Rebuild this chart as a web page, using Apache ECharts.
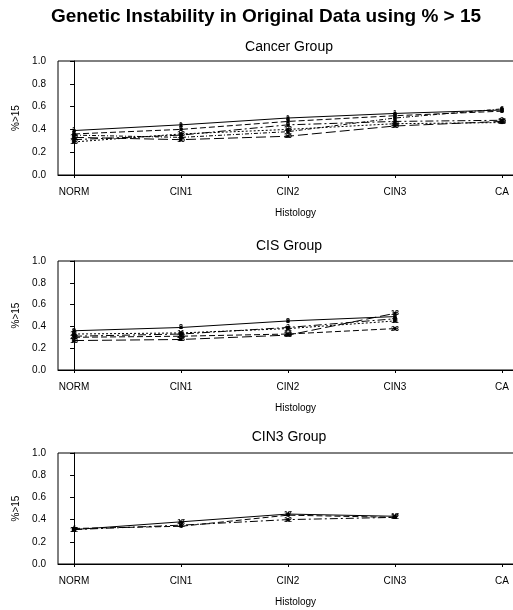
<!DOCTYPE html>
<html>
<head>
<meta charset="utf-8">
<script src="https://cdn.jsdelivr.net/npm/echarts@6/dist/echarts.min.js"></script>
<style>
  html, body { margin: 0; padding: 0; background: #fff; }
  #chart { width: 513px; height: 610px; }
</style>
</head>
<body>
<div id="chart"></div>
<script>
// Histology stages along the x axis
const categories = ['NORM', 'CIN1', 'CIN2', 'CIN3', 'CA'];
const yTicks = [0, 0.2, 0.4, 0.6, 0.8, 1.0];

// Cancer group: proportion of nuclei with % > 15 per patient
const cancerIds = ['1', '5', '9', '15', '18', '6'];
const cancerVals = [
  [0.39, 0.44, 0.50, 0.54, 0.57],
  [0.36, 0.40, 0.47, 0.52, 0.56],
  [0.31, 0.35, 0.44, 0.47, 0.48],
  [0.33, 0.31, 0.34, 0.43, 0.47],
  [0.29, 0.36, 0.40, 0.45, 0.46],
  [0.35, 0.33, 0.38, 0.50, 0.58]
];

// CIS group (no CA observations)
const cisIds = ['8', '23', '3', '18', '11'];
const cisVals = [
  [0.36, 0.39, 0.45, 0.49],
  [0.30, 0.31, 0.33, 0.38],
  [0.31, 0.33, 0.39, 0.47],
  [0.27, 0.28, 0.32, 0.52],
  [0.33, 0.34, 0.38, 0.45]
];

// CIN3 group (no CA observations)
const cin3Ids = ['17', '4', '12'];
const cin3Vals = [
  [0.31, 0.38, 0.45, 0.43],
  [0.32, 0.34, 0.44, 0.42],
  [0.31, 0.35, 0.40, 0.42]
];

const dashes = ['solid', [6, 3], [8, 3, 2, 3], [10, 4], [2, 2], [4, 2, 1, 2]];

const chart = echarts.init(document.getElementById('chart'), null, { renderer: 'canvas' });

const FONT = 'Liberation Sans';
const panels = [
  { title: 'Cancer Group', titleTop: 35, top: 61, height: 114, ids: cancerIds, vals: cancerVals },
  { title: 'CIS Group', titleTop: 234, top: 261, height: 109, ids: cisIds, vals: cisVals },
  { title: 'CIN3 Group', titleTop: 425, top: 453, height: 111, ids: cin3Ids, vals: cin3Vals }
];

// plot box runs past the right edge of the page
const GRID_LEFT = 58;
const GRID_WIDTH = 475;
const X_MIN = -0.15;
const X_MAX = 4.29;

const titles = [{
  text: 'Genetic Instability in Original Data using % > 15',
  left: 261,
  textAlign: 'center',
  top: 2,
  textStyle: { fontFamily: FONT, fontSize: 19, fontWeight: 'bold', color: '#000' }
}];
const grids = [], xAxes = [], yAxes = [], series = [];

panels.forEach((p, i) => {
  titles.push({
    text: p.title,
    left: 284,
    textAlign: 'center',
    top: p.titleTop,
    textStyle: { fontFamily: FONT, fontSize: 14, fontWeight: 'normal', color: '#000' }
  });
  grids.push({
    left: GRID_LEFT, width: GRID_WIDTH, top: p.top, height: p.height,
    outerBoundsMode: 'none',
    show: true, borderColor: '#000', borderWidth: 1, backgroundColor: 'transparent'
  });
  xAxes.push({
    type: 'value', gridIndex: i, min: X_MIN, max: X_MAX,
    name: 'Histology', nameLocation: 'middle', nameGap: 33,
    nameTextStyle: { fontFamily: FONT, fontSize: 10, color: '#000' },
    axisLine: { show: true, onZero: false, lineStyle: { color: '#000', width: 1 } },
    axisTick: { show: true, length: 3, lineStyle: { color: '#000' }, customValues: [0, 1, 2, 3, 4] },
    axisLabel: {
      fontFamily: FONT, fontSize: 10, color: '#000', margin: 12,
      customValues: [0, 1, 2, 3, 4],
      formatter: v => categories[Math.round(v)]
    },
    splitLine: { show: false }
  });
  yAxes.push({
    type: 'value', gridIndex: i, min: 0, max: 1, interval: 0.2,
    name: '%>15', nameLocation: 'middle', nameGap: 37, nameRotate: 90,
    nameTextStyle: { fontFamily: FONT, fontSize: 10, color: '#000' },
    axisLine: { show: true, lineStyle: { color: '#000', width: 1 } },
    axisTick: { show: true, length: 4, lineStyle: { color: '#000' } },
    axisLabel: { fontFamily: FONT, fontSize: 10, color: '#000', margin: 12, formatter: v => v.toFixed(1) },
    splitLine: { show: false }
  });
  p.vals.forEach((row, k) => {
    series.push({
      type: 'line', xAxisIndex: i, yAxisIndex: i, name: p.ids[k],
      data: row.map((v, j) => [j, v]),
      symbol: 'rect', symbolSize: 3, showSymbol: true,
      itemStyle: { color: '#000' },
      lineStyle: { color: '#000', width: 1, type: dashes[k % dashes.length] },
      label: {
        show: true, position: 'inside', formatter: p.ids[k],
        fontFamily: FONT, fontSize: 7, fontWeight: 'bold', color: '#000'
      },
      animation: false, silent: true
    });
  });
});

chart.setOption({
  backgroundColor: '#fff',
  animation: false,
  title: titles,
  grid: grids,
  xAxis: xAxes,
  yAxis: yAxes,
  series: series
});
</script>
</body>
</html>
